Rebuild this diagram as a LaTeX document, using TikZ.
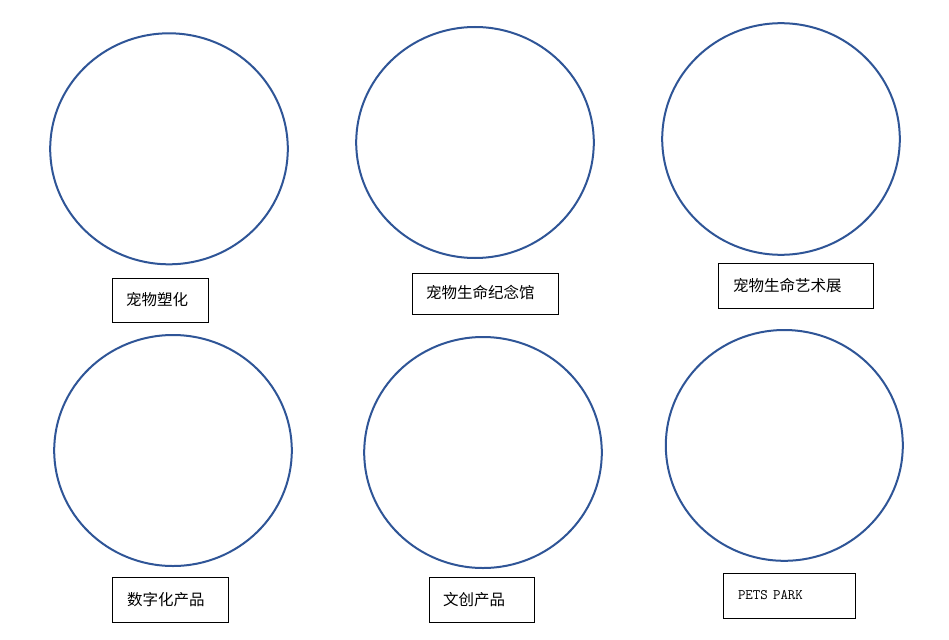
\documentclass[tikz,border=0pt]{standalone}
\usepackage{fontspec}
\newfontfamily\cjk{Noto Sans CJK SC}
\definecolor{ringblue}{HTML}{2F5597}
\begin{document}
\begin{tikzpicture}[x=1pt,y=-1pt,
  ring/.style={draw=ringblue,line width=2pt},
  lbox/.style={draw=black,line width=0.9pt,inner xsep=14pt,inner ysep=0pt,align=left,
    font=\cjk\fontsize{15.5}{18}\selectfont},
]
\useasboundingbox[fill=white] (0,0) rectangle (949,639);
% circles
\draw[ring] (169,148.8) ellipse [x radius=118.8, y radius=115.5];
\draw[ring] (475,142.5) ellipse [x radius=118.8, y radius=115.5];
\draw[ring] (781,139) ellipse [x radius=118.8, y radius=115.8];
\draw[ring] (173,450.5) ellipse [x radius=118.8, y radius=115.5];
\draw[ring] (483,452.5) ellipse [x radius=118.8, y radius=115.5];
\draw[ring] (784.3,445.4) ellipse [x radius=118.5, y radius=115.4];
% labels
\node[lbox,text width=68pt,minimum height=44pt] (b1) at (160,300) {宠物塑化};
\node[lbox,text width=118pt,minimum height=41pt,text depth=2.5pt] (b2) at (485,293.5) {宠物生命纪念馆};
\node[lbox,text width=125pt,inner xsep=15pt,minimum height=45pt] (b3) at (795.5,285.5) {宠物生命艺术展};
\node[lbox,text width=86pt,inner xsep=15pt,minimum height=45pt] (b4) at (170,599.5) {数字化产品};
\node[lbox,text width=77pt,minimum height=45pt] (b5) at (481.5,599.5) {文创产品};
\node[lbox,text width=102pt,inner xsep=15pt,minimum height=45pt] (b6) at (789,595.5) {\ttfamily\fontsize{14.5}{16}\selectfont PETS PARK};
\end{tikzpicture}
\end{document}
